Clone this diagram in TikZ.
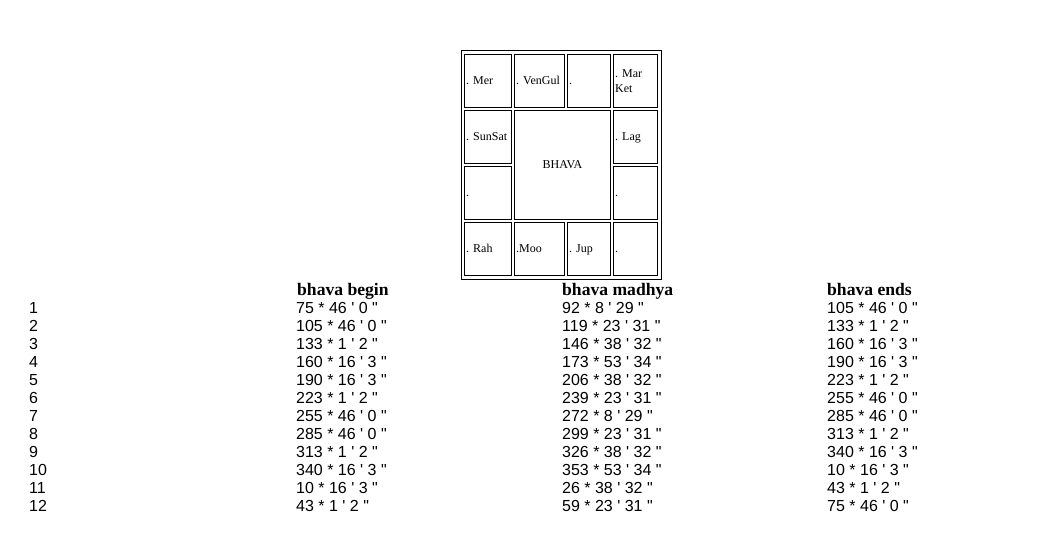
\documentclass[tikz,border=0pt]{standalone}
\usepackage{fontspec}
\setmainfont{Liberation Serif}
\newfontfamily\arialf{Liberation Sans}
\begin{document}
\begin{tikzpicture}[x=1pt,y=-1pt,
  cellbox/.style={draw=black,line width=1pt,inner sep=0pt,outer sep=0pt,anchor=north west},
  celltxt/.style={inner sep=0pt,anchor=base west,font=\fontsize{12}{15}\selectfont},
  headtxt/.style={inner sep=0pt,anchor=base west,font=\fontsize{17.6}{20}\selectfont\bfseries},
  datatxt/.style={inner sep=0pt,anchor=base west,font=\arialf\fontsize{16}{18}\selectfont}]
\useasboundingbox[fill=white] (0,0) rectangle (1047,558);
% outer table frame
\node[cellbox,minimum width=200pt,minimum height=228.5pt] (frame) at (461,50.5) {};
% row 1
\node[cellbox,minimum width=47pt,minimum height=53pt] (c11) at (464.5,54.5) {};
\node[cellbox,minimum width=50pt,minimum height=53pt] (c12) at (514.5,54.5) {};
\node[cellbox,minimum width=43pt,minimum height=53pt] (c13) at (567.5,54.5) {};
\node[cellbox,minimum width=44pt,minimum height=53pt] (c14) at (613.5,54.5) {};
% row 2 / 3
\node[cellbox,minimum width=47pt,minimum height=53pt] (c21) at (464.5,110.5) {};
\node[cellbox,minimum width=96pt,minimum height=109pt] (mid) at (514.5,110.5) {};
\node[cellbox,minimum width=44pt,minimum height=53pt] (c24) at (613.5,110.5) {};
\node[cellbox,minimum width=47pt,minimum height=53pt] (c31) at (464.5,166.5) {};
\node[cellbox,minimum width=44pt,minimum height=53pt] (c34) at (613.5,166.5) {};
% row 4
\node[cellbox,minimum width=47pt,minimum height=53pt] (c41) at (464.5,222.5) {};
\node[cellbox,minimum width=50pt,minimum height=53pt] (c42) at (514.5,222.5) {};
\node[cellbox,minimum width=43pt,minimum height=53pt] (c43) at (567.5,222.5) {};
\node[cellbox,minimum width=44pt,minimum height=53pt] (c44) at (613.5,222.5) {};
% cell texts
\node[celltxt] (t11) at (466,84.5) {. Mer};
\node[celltxt] (t12) at (516,84.5) {. VenGul};
\node[celltxt] (t13) at (569,84.5) {.};
\node[celltxt] (t14a) at (615,77) {. Mar};
\node[celltxt] (t14b) at (615,92) {Ket};
\node[celltxt] (t21) at (466,140.5) {. SunSat};
\node[celltxt,anchor=base] (tmid) at (562.5,168) {BHAVA};
\node[celltxt] (t24) at (615,140.5) {. Lag};
\node[celltxt] (t31) at (466,196.5) {.};
\node[celltxt] (t34) at (615,196.5) {.};
\node[celltxt] (t41) at (466,252.5) {. Rah};
\node[celltxt] (t42) at (516,252.5) {.Moo};
\node[celltxt] (t43) at (569,252.5) {. Jup};
\node[celltxt] (t44) at (615,252.5) {.};
% headers
\node[headtxt] (hb) at (297,295) {bhava begin};
\node[headtxt] (hm) at (562,295) {bhava madhya};
\node[headtxt] (he) at (827,295) {bhava ends};
% data rows
\foreach \a/\b/\c [count=\i] in {
 75 * 46 ' 0 "/92 * 8 ' 29 "/105 * 46 ' 0 ",
 105 * 46 ' 0 "/119 * 23 ' 31 "/133 * 1 ' 2 ",
 133 * 1 ' 2 "/146 * 38 ' 32 "/160 * 16 ' 3 ",
 160 * 16 ' 3 "/173 * 53 ' 34 "/190 * 16 ' 3 ",
 190 * 16 ' 3 "/206 * 38 ' 32 "/223 * 1 ' 2 ",
 223 * 1 ' 2 "/239 * 23 ' 31 "/255 * 46 ' 0 ",
 255 * 46 ' 0 "/272 * 8 ' 29 "/285 * 46 ' 0 ",
 285 * 46 ' 0 "/299 * 23 ' 31 "/313 * 1 ' 2 ",
 313 * 1 ' 2 "/326 * 38 ' 32 "/340 * 16 ' 3 ",
 340 * 16 ' 3 "/353 * 53 ' 34 "/10 * 16 ' 3 ",
 10 * 16 ' 3 "/26 * 38 ' 32 "/43 * 1 ' 2 ",
 43 * 1 ' 2 "/59 * 23 ' 31 "/75 * 46 ' 0 "}{
  \node[datatxt] (n\i) at (29,{313+18*(\i-1)}) {\i};
  \node[datatxt] (b\i) at (296,{313+18*(\i-1)}) {\a};
  \node[datatxt] (m\i) at (562,{313+18*(\i-1)}) {\b};
  \node[datatxt] (e\i) at (827,{313+18*(\i-1)}) {\c};
}
\end{tikzpicture}
\end{document}
